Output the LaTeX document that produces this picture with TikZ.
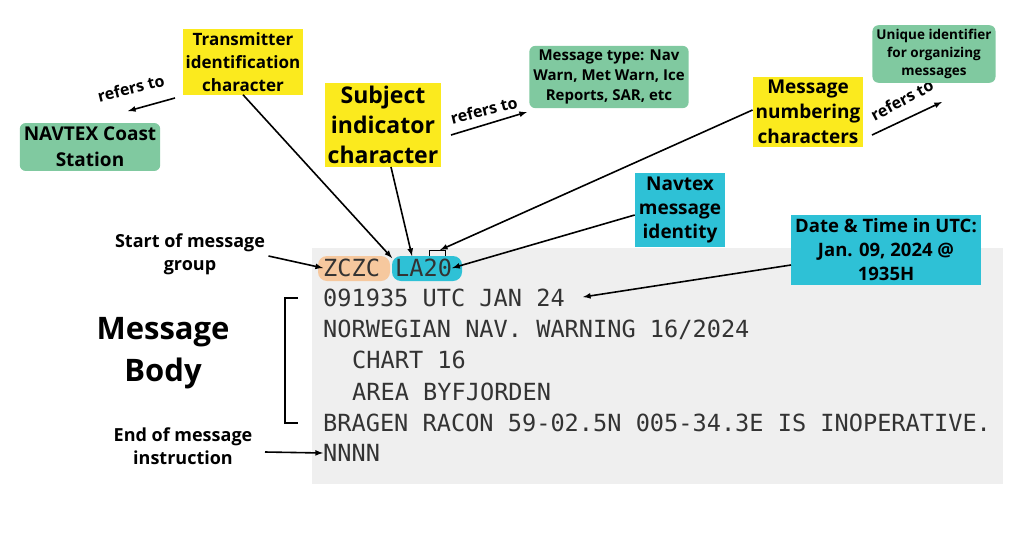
\documentclass[tikz,border=0pt]{standalone}
\usepackage{fontspec}
\setmainfont{Open Sans}
\newfontfamily\msgfont{DejaVu Sans Mono}
\definecolor{hlyellow}{HTML}{FBEA1E}
\definecolor{hlgreen}{HTML}{80C9A0}
\definecolor{hlcyan}{HTML}{2EC1D6}
\definecolor{hlorange}{HTML}{F6C89E}
\definecolor{paper}{HTML}{EFEFEF}
\tikzset{
  note/.style={font=\bfseries\fontsize{18}{23}\selectfont, align=center},
  yellowbox/.style={note, fill=hlyellow, inner sep=3pt},
  greenbox/.style={note, fill=hlgreen, rounded corners=6pt, inner sep=4pt},
  cyanbox/.style={note, fill=hlcyan, inner sep=4pt},
  reflabel/.style={note, font=\bfseries\fontsize{16}{18}\selectfont, inner sep=0pt},
  msg/.style={font=\msgfont\fontsize{23.6}{26}\selectfont, anchor=west, inner sep=0pt, text=black!80},
  pointer/.style={-latex, line width=1.6pt}
}
\begin{document}
\begin{tikzpicture}[x=1pt,y=-1pt]
	\useasboundingbox (0,0) rectangle (1024,538);
	% message sheet
	\fill[paper] (312,248) rectangle (1003,484);
	\fill[hlorange, rounded corners=9pt] (318,256) rectangle (390,281);
	\fill[hlcyan, rounded corners=9pt] (392,256) rectangle (462,281);
	\node[msg] (zczc) at (323,268) {ZCZC};
	\node[msg] (la) at (395,268) {LA20};
	\draw (429,256) -- (429,250) -- (445,250) -- (445,256);
	\coordinate (nbr) at (440,250);
	\node[msg] (l1) at (323,298) {091935 UTC JAN 24};
	\node[msg] (l2) at (323,330) {NORWEGIAN NAV. WARNING 16/2024};
	\node[msg] (l3) at (352,360) {CHART 16};
	\node[msg] (l4) at (352,392) {AREA BYFJORDEN};
	\node[msg] (l5) at (323,423) {BRAGEN RACON 59-02.5N 005-34.3E IS INOPERATIVE.};
	\node[msg] (nnnn) at (323,453) {NNNN};
	% message body bracket
	\draw[line width=1.6pt] (298,298) -- (285,298) -- (285,423) -- (298,423);
	\node[note, font=\bfseries\fontsize{31}{42}\selectfont] (body) at (163,353) {Message\\Body};
	% side labels
	\node[note] (start) at (190,254) {Start of message\\group};
	\draw[pointer] (start.east) ++(0,2) -- (zczc.west);
	\node[note] (end) at (183,446) {End of message\\instruction};
	\draw[pointer] (265,452) -- (nnnn.west);
	% upper notes
	\node[yellowbox, font=\bfseries\fontsize{17}{23}\selectfont] (trans) at (243,62) {Transmitter\\identification\\character};
	\draw[pointer] (trans.south) -- (392,258);
	\node[reflabel, rotate=14] (ref1) at (131,88) {refers to};
	\draw[pointer] (175,98) -- (128,111);
	\node[greenbox, font=\bfseries\fontsize{19}{26}\selectfont] (coast) at (90,147) {NAVTEX Coast\\Station};
	\node[yellowbox, font=\bfseries\fontsize{23}{30}\selectfont] (subj) at (383,125) {Subject\\indicator\\character};
	\draw[pointer] (subj.south) ++(8,0) -- (412,256);
	\node[reflabel, rotate=14] (ref2) at (484,110) {refers to};
	\draw[pointer] (451,135) -- (527,112);
	\node[greenbox, font=\bfseries\fontsize{15}{20}\selectfont] (type) at (609,77) {Message type: Nav\\Warn, Met Warn, Ice\\Reports, SAR, etc};
	\node[yellowbox, font=\bfseries\fontsize{19}{25}\selectfont] (numb) at (808,112) {Message\\numbering\\characters};
	\draw[pointer] (numb.west) ++(0,-2) -- (nbr);
	\node[reflabel, rotate=28] (ref3) at (902,100) {refers to};
	\draw[pointer] (872,135) -- (942,102);
	\node[greenbox, font=\bfseries\fontsize{13.5}{18}\selectfont] (uniq) at (934,54) {Unique identifier\\for organizing\\messages};
	\node[cyanbox, font=\bfseries\fontsize{19}{24}\selectfont] (ident) at (680,210) {Navtex\\message\\identity};
	\draw[pointer] (ident.west) ++(0,5) -- (la.east);
	\node[cyanbox, font=\bfseries\fontsize{18.5}{24}\selectfont] (date) at (886,250) {Date \& Time in UTC:\\Jan. 09, 2024 @\\1935H};
	\draw[pointer] (date.west) ++(0,15) -- (583,297);
\end{tikzpicture}
\end{document}
